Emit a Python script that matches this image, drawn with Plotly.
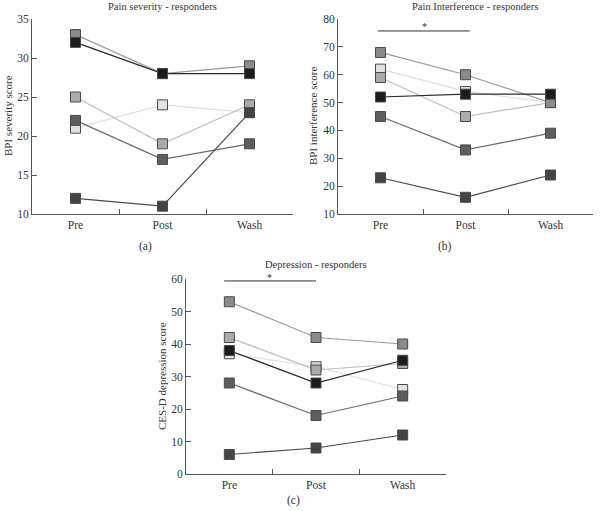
import plotly.graph_objects as go

categories = ["Pre", "Post", "Wash"]
subjects = ["S1", "S2", "S3", "S4", "S5", "S6"]

severity = {
    "S1": [33, 28, 29],
    "S2": [32, 28, 28],
    "S3": [25, 19, 24],
    "S4": [21, 24, 23],
    "S5": [22, 17, 19],
    "S6": [12, 11, 23],
}
interference = {
    "S1": [68, 60, 50],
    "S2": [52, 53, 53],
    "S3": [59, 45, 50],
    "S4": [62, 54, 50],
    "S5": [45, 33, 39],
    "S6": [23, 16, 24],
}
depression = {
    "S1": [53, 42, 40],
    "S2": [38, 28, 35],
    "S3": [42, 32, 34],
    "S4": [37, 33, 26],
    "S5": [28, 18, 24],
    "S6": [6, 8, 12],
}

fill_colors = {"S1": "#8a8a8a", "S2": "#1c1c1c", "S3": "#ababab",
               "S4": "#e2e2e2", "S5": "#5e5e5e", "S6": "#444444"}
line_colors = {"S1": "#9a9a9a", "S2": "#2a2a2a", "S3": "#bdbdbd",
               "S4": "#dedede", "S5": "#6a6a6a", "S6": "#4a4a4a"}

W, H = 600, 511
FONT = "Liberation Serif"

fig = go.Figure()

panels = [
    (severity, "x", "y"),
    (interference, "x2", "y2"),
    (depression, "x3", "y3"),
]
order = ["S4", "S3", "S1", "S5", "S6", "S2"]
for data, xa, ya in panels:
    for s in order:
        fig.add_trace(go.Scatter(
            x=categories, y=data[s], xaxis=xa, yaxis=ya, mode="lines+markers",
            line=dict(color=line_colors[s], width=1.2),
            marker=dict(symbol="square", size=10, color=fill_colors[s],
                        line=dict(color="#4a4a4a", width=1)),
            showlegend=False, cliponaxis=False,
        ))

def px_x(p):
    return p / W

def px_y(p):
    return 1 - p / H

axis_common = dict(showline=True, linecolor="#555555", linewidth=1,
                   ticks="inside", ticklen=5, tickcolor="#555555",
                   showgrid=False, zeroline=False, automargin=False,
                   tickfont=dict(family=FONT, size=11.5, color="#333333"))

xaxis_common = dict(axis_common, type="category", range=[-0.5, 2.5],
                    tickson="boundaries", categoryorder="array",
                    categoryarray=categories)

layout = dict(
    template="none",
    width=W, height=H, margin=dict(l=0, r=0, t=0, b=0, autoexpand=False),
    plot_bgcolor="white", paper_bgcolor="white",
    font=dict(family=FONT, size=12, color="#333333"),
    xaxis=dict(xaxis_common, domain=[px_x(32), px_x(293)], anchor="y"),
    yaxis=dict(axis_common, domain=[px_y(214), px_y(19)], range=[10, 35], dtick=5, anchor="x"),
    xaxis2=dict(xaxis_common, domain=[px_x(338), px_x(593)], anchor="y2"),
    yaxis2=dict(axis_common, domain=[px_y(214), px_y(19)], range=[10, 80], dtick=10, anchor="x2"),
    xaxis3=dict(xaxis_common, domain=[px_x(186), px_x(446)], anchor="y3"),
    yaxis3=dict(axis_common, domain=[px_y(474), px_y(279)], range=[0, 60], dtick=10, anchor="x3"),
)
fig.update_layout(**layout)

ann = []
def text(x, y, t, size=12, angle=0):
    ann.append(dict(x=px_x(x), y=px_y(y), xref="paper", yref="paper", text=t,
                    showarrow=False, textangle=angle,
                    font=dict(family=FONT, size=size, color="#333333"),
                    xanchor="center", yanchor="middle"))

text(162, 6, "Pain severity - responders", 10.5)
text(475, 6, "Pain Interference - responders", 10.5)
text(316, 264, "Depression - responders", 10.5)
text(145, 246, "(a)", 11.5)
text(445, 246, "(b)", 11.5)
text(293, 500, "(c)", 11.5)
text(8, 116, "BPI severity score", 11, -90)
text(313, 116, "BPI interference score", 11, -90)
text(162, 376, "CES-D depression score", 11, -90)

# significance markers
text(424, 26, "*", 10)
text(269, 277, "*", 10)
fig.update_layout(annotations=ann)

fig.add_shape(type="line", xref="x2", yref="y2", x0=-0.03, x1=1.05, y0=75.7, y1=75.7,
              line=dict(color="#333333", width=1))
fig.add_shape(type="line", xref="x3", yref="y3", x0=-0.06, x1=1.0, y0=59.4, y1=59.4,
              line=dict(color="#333333", width=1))

fig.write_html("out.html", config={"displayModeBar": False},
               post_script="document.body.style.margin='0';document.body.style.overflow='hidden';")
